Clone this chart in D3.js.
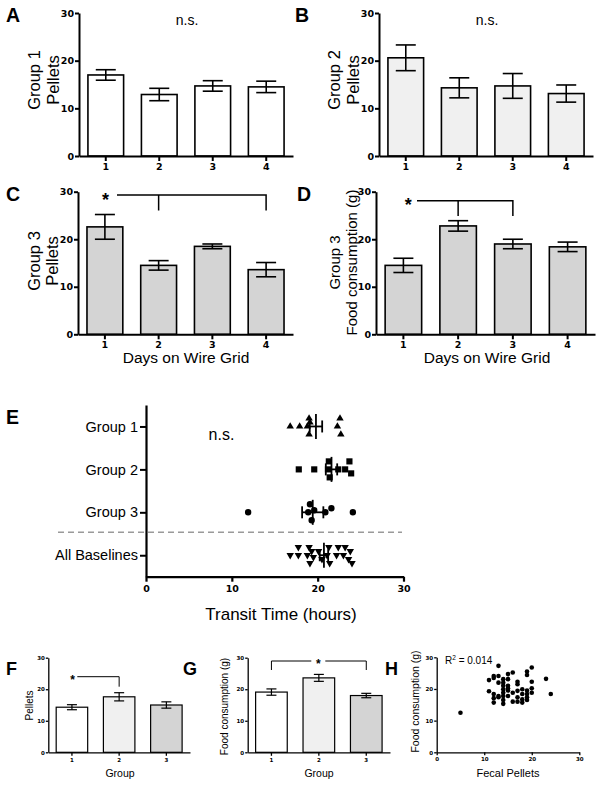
<!DOCTYPE html>
<html><head><meta charset="utf-8">
<script src="https://cdn.jsdelivr.net/npm/d3@7"></script>
<style>
body{margin:0;background:#fff}
svg{display:block}
text{font-family:"Liberation Sans",Arial,Helvetica,sans-serif;fill:#000}
</style>
</head><body>
<svg id="c" width="602" height="785"></svg>
<script>
// ---------- data ----------
const days = ["1", "2", "3", "4"];
const group1Pellets = [17.0, 12.9, 14.7, 14.5];
const group1PelletsSem = [1.1, 1.3, 1.1, 1.2];
const group2Pellets = [20.6, 14.3, 14.7, 13.1];
const group2PelletsSem = [2.7, 2.1, 2.6, 1.8];
const group3Pellets = [22.6, 14.5, 18.5, 13.6];
const group3PelletsSem = [2.6, 1.0, 0.5, 1.5];
const group3Food = [14.5, 22.8, 19.0, 18.4];
const group3FoodSem = [1.5, 1.1, 1.0, 1.0];

const groups = ["1", "2", "3"];
const groupPellets = [14.3, 17.6, 15.0];
const groupPelletsSem = [0.8, 1.3, 1.0];
const groupFood = [19.1, 23.6, 18.0];
const groupFoodSem = [1.0, 1.1, 0.7];

const barTicks = [0, 10, 20, 30];

const transitCategories = ["Group 1", "Group 2", "Group 3", "All Baselines"];
const transitGroup1 = [16.8, 17.9, 18.8, 19.0, 19.0, 19.1, 22.3, 22.6, 22.7];
const transitGroup2 = [17.8, 19.6, 21.2, 21.3, 21.4, 22.4, 23.2, 23.7, 23.9];
const transitGroup3 = [11.9, 18.9, 19.1, 19.3, 19.6, 20.9, 21.6, 24.1];
const transitBaselines = [16.8, 17.75, 17.75, 18.8, 19.0, 19.1, 19.3, 19.5, 20.1, 20.5,
  21.1, 21.3, 21.4, 22.2, 22.4, 23.0, 23.2, 23.6, 23.8, 24.0];
const transitTicks = [0, 10, 20, 30];

const fecalPellets = [5, 11, 11, 12, 12, 12, 12, 12, 13, 13, 13, 13, 13,
  14, 14, 14, 14, 14, 14, 14, 14, 15, 15, 15, 15, 15, 15, 16, 16, 16,
  17, 17, 17, 17, 17, 18, 18, 18, 18, 19, 19, 19, 19, 19, 19, 20, 20, 20, 20, 23, 24];
const fecalFood = [12.5, 22.8, 19.3, 24.1, 23.5, 18.4, 17.1, 15.7, 27.3, 24.1, 22.0, 17.8, 17.4,
  23.1, 22.0, 21.0, 19.9, 18.8, 17.8, 16.5, 15.3, 24.7, 23.1, 21.0, 20.2, 19.5, 17.8, 25.2, 18.8, 16.0,
  22.3, 21.5, 19.4, 17.4, 16.0, 19.9, 18.4, 16.7, 15.7, 25.5, 24.4, 19.5, 18.4, 17.4, 16.5,
  26.8, 22.3, 20.2, 18.8, 23.2, 18.4];
const scatterTicks = [0, 10, 20, 30];
const rSquared = "0.014";

// ---------- drawing ----------
const svg = d3.select("#c");
const TICKFONT = '"DejaVu Sans",Verdana,sans-serif';

function styleAxis(g, w, fs) {
  g.select(".domain").attr("stroke", "#000").attr("stroke-width", w);
  g.selectAll(".tick line").attr("stroke", "#000").attr("stroke-width", w);
  g.selectAll(".tick text").attr("fill", "#000").style("font-family", TICKFONT)
    .style("font-weight", "bold").style("font-size", fs + "px");
}

function barPanel(o) {
  const x = d3.scaleBand().domain(o.cats).range([o.x0, o.x1]).paddingInner(0.333).paddingOuter(0.167);
  const y = d3.scaleLinear().domain([0, 30]).range([o.yBot, o.yTop]);
  const g = svg.append("g");
  g.selectAll("rect.bar").data(o.vals).join("rect")
    .attr("x", (d, i) => x(o.cats[i])).attr("width", x.bandwidth())
    .attr("y", d => y(d)).attr("height", d => y(0) - y(d))
    .attr("fill", (d, i) => o.fills[i]).attr("stroke", "#000").attr("stroke-width", o.sw);
  const eb = g.selectAll("g.eb").data(o.vals).join("g")
    .attr("transform", (d, i) => `translate(${x(o.cats[i]) + x.bandwidth() / 2},0)`);
  eb.append("line").attr("x1", 0).attr("x2", 0)
    .attr("y1", (d, i) => y(d - o.sems[i])).attr("y2", (d, i) => y(d + o.sems[i]))
    .attr("stroke", "#000").attr("stroke-width", o.sw);
  [1, -1].forEach(s => eb.append("line").attr("x1", -o.cap / 2).attr("x2", o.cap / 2)
    .attr("y1", (d, i) => y(d + s * o.sems[i])).attr("y2", (d, i) => y(d + s * o.sems[i]))
    .attr("stroke", "#000").attr("stroke-width", o.sw));
  const ya = g.append("g").attr("transform", `translate(${o.x0},0)`)
    .call(d3.axisLeft(y).tickValues(barTicks).tickSize(o.tick).tickSizeOuter(0).tickPadding(1));
  styleAxis(ya, o.aw, o.fs);
  const xa = g.append("g").attr("transform", `translate(0,${o.yBot})`)
    .call(d3.axisBottom(x).tickSize(o.tick + 1).tickSizeOuter(0).tickPadding(2));
  styleAxis(xa, o.aw, o.fs);
  return { x, y, g };
}

function rotLabel(lines, cy, fs) {
  lines.forEach(([txt, bx]) => {
    svg.append("text").attr("transform", `translate(${bx},${cy}) rotate(-90)`)
      .attr("text-anchor", "middle").style("font-size", fs + "px").text(txt);
  });
}
function txt(t, x, y, fs, opt = {}) {
  return svg.append("text").attr("x", x).attr("y", y).attr("text-anchor", opt.anchor || "middle")
    .style("font-size", fs + "px").style("font-weight", opt.bold ? "bold" : "normal").text(t);
}
function bracket(pts, w) {
  svg.append("path").attr("d", d3.line()(pts)).attr("fill", "none").attr("stroke", "#000").attr("stroke-width", w);
}

const WHITE = "#ffffff", LIGHT = "#f0f0f0", GRAY = "#d4d4d4";

// A
barPanel({ cats: days, vals: group1Pellets, sems: group1PelletsSem, x0: 79, x1: 293, yTop: 13, yBot: 156,
  fills: [WHITE, WHITE, WHITE, WHITE], sw: 1.6, cap: 20, tick: 4, aw: 2, fs: 9.5 });
rotLabel([["Group 1", 40], ["Pellets", 58.5]], 80, 16.5);
txt("n.s.", 187, 25, 14);
txt("A", 6, 21.7, 19.5, { anchor: "start", bold: true });

// B
barPanel({ cats: days, vals: group2Pellets, sems: group2PelletsSem, x0: 379, x1: 593, yTop: 13, yBot: 156,
  fills: [LIGHT, LIGHT, LIGHT, LIGHT], sw: 1.6, cap: 20, tick: 4, aw: 2, fs: 9.5 });
rotLabel([["Group 2", 340], ["Pellets", 358.5]], 80, 16.5);
txt("n.s.", 487, 25, 14);
txt("B", 295, 21.7, 19.5, { anchor: "start", bold: true });

// C
const pc = barPanel({ cats: days, vals: group3Pellets, sems: group3PelletsSem, x0: 78, x1: 293, yTop: 191.7, yBot: 334.3,
  fills: [GRAY, GRAY, GRAY, GRAY], sw: 1.6, cap: 20, tick: 4, aw: 2, fs: 9.5 });
rotLabel([["Group 3", 39.5], ["Pellets", 58]], 261, 16.5);
txt("Days on Wire Grid", 186, 363, 15.5);
txt("C", 6, 200.7, 19.5, { anchor: "start", bold: true });
{
  const xm = d => pc.x(d) + pc.x.bandwidth() / 2;
  const yb = 195, yd = 210.5;
  bracket([[117, yb], [xm("4"), yb], [xm("4"), yd]], 1.5);
  bracket([[xm("2"), yb], [xm("2"), yd]], 1.5);
  txt("*", 105.5, 206, 18, { bold: true });
}

// D
const pd = barPanel({ cats: days, vals: group3Food, sems: group3FoodSem, x0: 376, x1: 595, yTop: 191.7, yBot: 334.3,
  fills: [GRAY, GRAY, GRAY, GRAY], sw: 1.6, cap: 20, tick: 4, aw: 2, fs: 9.5 });
rotLabel([["Group 3", 340], ["Food consumption (g)", 356.5]], 262.5, 15);
txt("Days on Wire Grid", 487, 363, 15.5);
txt("D", 297, 200.7, 19.5, { anchor: "start", bold: true });
{
  const xm = d => pd.x(d) + pd.x.bandwidth() / 2;
  const yb = 200.7, yd = 216;
  bracket([[417, yb], [xm("3"), yb], [xm("3"), yd]], 1.5);
  bracket([[xm("2"), yb], [xm("2"), yd]], 1.5);
  txt("*", 408.3, 211, 18, { bold: true });
}

// E
{
  const x = d3.scaleLinear().domain([0, 30]).range([146, 403.5]);
  const y = d3.scalePoint().domain(transitCategories).range([405, 576.7]).padding(0.5);
  const g = svg.append("g");
  // dashed separator
  g.append("line").attr("x1", 58).attr("x2", 402).attr("y1", 532.3).attr("y2", 532.3)
    .attr("stroke", "#9a9a9a").attr("stroke-width", 1.6).attr("stroke-dasharray", "6,4");
  const series = [transitGroup1, transitGroup2, transitGroup3, transitBaselines];
  const shapes = [
    { type: d3.symbolTriangle, size: 24, rot: 0 },
    { type: d3.symbolSquare, size: 38, rot: 0 },
    { type: d3.symbolCircle, size: 32, rot: 0 },
    { type: d3.symbolTriangle, size: 24, rot: 180 }
  ];
  function dodge(vals) {
    const order = d3.range(vals.length).sort((a, b) => vals[a] - vals[b]);
    const cand = [0, -4, 4, -8, 8, -6, 6, -2, 2];
    const placed = [], off = [];
    for (const i of order) {
      const px = x(vals[i]);
      let best = null, bestD = -1;
      for (const c of cand) {
        const dmin = placed.length ? d3.min(placed, p => Math.hypot(p[0] - px, p[1] - c)) : Infinity;
        if (dmin >= 6.2) { best = c; break; }
        if (dmin > bestD) { bestD = dmin; best = c; }
      }
      placed.push([px, best]); off[i] = best;
    }
    return off;
  }
  series.forEach((vals, k) => {
    const cy = y(transitCategories[k]);
    const off = dodge(vals);
    const sh = shapes[k];
    const sym = d3.symbol().type(sh.type).size(sh.size);
    g.selectAll(null).data(vals).join("path")
      .attr("d", sym)
      .attr("transform", (d, i) => `translate(${x(d)},${cy + off[i]}) rotate(${sh.rot})`)
      .attr("fill", "#000");
    const m = d3.mean(vals), sem = d3.deviation(vals) / Math.sqrt(vals.length);
    const lw = 1.8;
    g.append("line").attr("x1", x(m)).attr("x2", x(m)).attr("y1", cy - 12.5).attr("y2", cy + 12.5)
      .attr("stroke", "#000").attr("stroke-width", lw);
    g.append("line").attr("x1", x(m - sem)).attr("x2", x(m + sem)).attr("y1", cy).attr("y2", cy)
      .attr("stroke", "#000").attr("stroke-width", lw);
    [m - sem, m + sem].forEach(v => g.append("line").attr("x1", x(v)).attr("x2", x(v))
      .attr("y1", cy - 6).attr("y2", cy + 6).attr("stroke", "#000").attr("stroke-width", lw));
  });
  const ya = g.append("g").attr("transform", "translate(146,0)")
    .call(d3.axisLeft(y).tickSize(6).tickSizeOuter(0).tickPadding(2));
  ya.select(".domain").attr("stroke", "#000").attr("stroke-width", 2.2);
  ya.selectAll(".tick line").attr("stroke", "#000").attr("stroke-width", 2);
  ya.selectAll(".tick text").attr("fill", "#000").style("font-size", "14.5px")
    .style("font-family", '"Liberation Sans",Arial,sans-serif');
  const xa = g.append("g").attr("transform", "translate(0,576.7)")
    .call(d3.axisBottom(x).tickValues(transitTicks).tickSize(5).tickSizeOuter(0).tickPadding(4));
  styleAxis(xa, 2.2, 9.5);
  txt("n.s.", 221.5, 440, 16);
  txt("Transit Time (hours)", 281, 620, 17);
  txt("E", 6, 424.3, 19.5, { anchor: "start", bold: true });
}

// F
const pf = barPanel({ cats: groups, vals: groupPellets, sems: groupPelletsSem, x0: 48.3, x1: 190, yTop: 657.7, yBot: 752.3,
  fills: [WHITE, LIGHT, GRAY], sw: 1.2, cap: 10, tick: 2.5, aw: 1.3, fs: 5.5 });
rotLabel([["Pellets", 33]], 705.5, 10);
txt("Group", 120, 777, 10.5);
txt("F", 6, 675, 18, { anchor: "start", bold: true });
{
  const xm = d => pf.x(d) + pf.x.bandwidth() / 2;
  bracket([[77.3, 676.7], [xm("2"), 676.7], [xm("2"), 686.7]], 1);
  txt("*", 72.5, 684, 12, { bold: true });
}

// G
const pg = barPanel({ cats: groups, vals: groupFood, sems: groupFoodSem, x0: 247.7, x1: 390, yTop: 657.7, yBot: 752.3,
  fills: [WHITE, LIGHT, GRAY], sw: 1.2, cap: 10, tick: 2.5, aw: 1.3, fs: 5.5 });
rotLabel([["Food consumption (g)", 227.5]], 706.5, 10);
txt("Group", 319, 777, 10.5);
txt("G", 183, 675, 18, { anchor: "start", bold: true });
{
  const xm = d => pg.x(d) + pg.x.bandwidth() / 2;
  const x1 = xm("1"), x3 = xm("3"), c = 318.3;
  bracket([[x1, 670], [x1, 661], [c - 7, 661]], 1);
  bracket([[c + 7, 661], [x3, 661], [x3, 670]], 1);
  txt("*", c, 668, 12, { bold: true });
}

// H
{
  const x = d3.scaleLinear().domain([0, 30]).range([436.7, 579.3]);
  const y = d3.scaleLinear().domain([0, 30]).range([752.3, 657.3]);
  const g = svg.append("g");
  g.selectAll("circle").data(fecalPellets).join("circle")
    .attr("cx", d => x(d)).attr("cy", (d, i) => y(fecalFood[i])).attr("r", 2.3).attr("fill", "#000");
  const ya = g.append("g").attr("transform", "translate(436.7,0)")
    .call(d3.axisLeft(y).tickValues(scatterTicks).tickSize(2.5).tickSizeOuter(0).tickPadding(1));
  styleAxis(ya, 1.3, 5.5);
  const xa = g.append("g").attr("transform", "translate(0,752.3)")
    .call(d3.axisBottom(x).tickValues(scatterTicks).tickSize(3).tickSizeOuter(0).tickPadding(1.5));
  styleAxis(xa, 1.3, 5.5);
  const r = svg.append("text").attr("x", 445).attr("y", 664).style("font-size", "10px");
  r.append("tspan").text("R");
  r.append("tspan").attr("dy", -4).style("font-size", "6.5px").text("2");
  r.append("tspan").attr("dy", 4).text(" = " + rSquared);
  rotLabel([["Food consumption (g)", 419]], 701.5, 10.5);
  txt("Fecal Pellets", 508, 776.5, 11);
  txt("H", 385, 675, 18, { anchor: "start", bold: true });
}
</script>
</body></html>
